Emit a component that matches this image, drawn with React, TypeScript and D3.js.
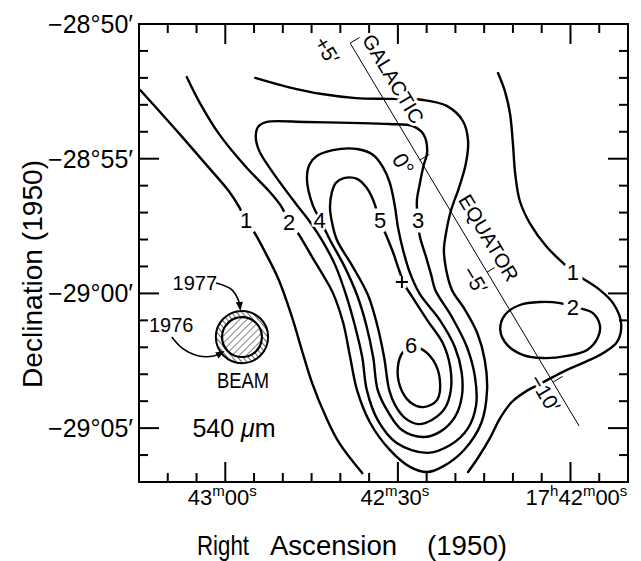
import React from 'react';
import * as d3 from 'd3';

type Pt = [number, number];

// x: RA (1950) in seconds of time after 17h42m00s, increasing to the east (left)
// y: Dec (1950) in arcmin from -29°00', north positive
const raMajorTicks = [60, 30, 0];
const raTickLabels = [
  ['43', 'm', '00', 's'],
  ['42', 'm', '30', 's'],
  ['17', 'h', '42', 'm', '00', 's'],
];
const decMajorTicks = [10, 5, 0, -5];
const decTickLabels = ['−28°50′', '−28°55′', '−29°00′', '−29°05′'];

// 540 µm contours (levels 1..6)
const contour1West: Pt[] = [
  [74.8, 7.55], [71.5, 6.77], [67.5, 5.81], [63.4, 4.8], [59.4, 3.8], [57.6, 3.21],
  [56.4, 2.69], [55.0, 2.28], [52.9, 1.46], [50.7, 0.5], [48.4, -0.88], [46.7, -2.1],
  [44.9, -3.33], [42.5, -4.59], [40.2, -5.55], [36.2, -6.67],
];
const contour1East: Pt[] = [
  [12.6, 8.18], [11.4, 7.51], [10.5, 6.66], [10.0, 5.55], [9.6, 4.43], [8.8, 3.43],
  [7.0, 2.58], [4.1, 1.72], [0.9, 1.05], [-0.4, 0.79], [-2.0, 0.57], [-5.1, 0.13],
  [-7.4, -0.36], [-8.8, -1.1], [-8.1, -1.8], [-5.7, -2.21], [-2.2, -2.58], [0.6, -2.84],
  [3.0, -3.1], [5.3, -3.36], [7.4, -3.59], [10.2, -4.03], [12.2, -4.62], [14.0, -5.37],
  [16.1, -6.11], [17.8, -6.63],
];
const contour2Main: Pt[] = [
  [66.7, 8.03], [64.6, 7.14], [61.1, 5.92], [56.4, 4.69], [52.4, 3.8], [50.3, 3.24],
  [48.9, 2.65], [47.5, 2.28], [44.9, 1.35], [42.7, 0.57], [41.3, 0.02], [39.5, -1.1],
  [38.3, -2.36], [37.1, -3.59], [34.8, -4.81], [31.4, -5.81], [27.9, -6.44], [24.9, -6.63],
  [22.3, -6.44], [18.5, -5.81], [15.5, -4.81], [14.5, -3.59], [14.9, -2.47], [16.2, -1.47],
  [18.3, -0.62], [20.6, 0.13], [21.6, 0.87], [22.0, 1.61], [21.6, 2.28], [20.8, 3.06],
  [19.4, 3.91], [18.2, 4.8], [17.8, 5.66], [18.7, 6.4], [21.5, 6.96], [25.6, 7.18],
  [31.4, 7.22], [37.3, 7.25], [43.2, 7.4], [48.9, 7.65], [54.8, 8.0],
];
const contour2Island: Pt[] = [
  [-0.4, -0.5], [-2.2, -0.58], [-3.9, -0.73], [-5.1, -1.17], [-4.8, -1.62], [-2.9, -2.1],
  [0.6, -2.32], [4.8, -2.4], [8.2, -2.29], [11.0, -1.91], [12.2, -1.36], [11.4, -0.8],
  [8.8, -0.43], [5.3, -0.32], [1.8, -0.36],
];
const contour3: Pt[] = [
  [52.9, 6.36], [46.0, 6.36], [38.3, 6.33], [31.5, 6.29], [27.4, 6.21], [25.6, 5.92],
  [24.9, 5.29], [25.6, 4.69], [26.2, 4.06], [26.7, 3.43], [26.5, 2.69], [26.2, 2.13],
  [25.1, 1.35], [24.2, 0.68], [23.5, 0.13], [20.6, -0.88], [18.0, -1.99], [16.6, -3.1],
  [16.4, -4.14], [17.8, -5.0], [20.9, -5.63], [24.9, -5.92], [30.2, -5.55], [33.5, -4.7],
  [35.4, -3.59], [36.2, -2.36], [37.5, -1.17], [39.0, -0.06], [40.9, 1.05], [43.2, 1.98],
  [45.4, 2.69], [47.7, 3.32], [51.9, 4.54], [54.1, 5.29], [54.7, 5.81], [54.3, 6.18],
];
const contour4: Pt[] = [
  [45.8, 4.21], [45.4, 4.77], [44.1, 5.1], [41.3, 5.32], [37.1, 5.36], [34.3, 5.14],
  [32.6, 4.69], [31.4, 4.1], [30.5, 3.21], [30.0, 2.47], [29.1, 1.61], [27.9, 0.76],
  [26.2, -0.02], [22.7, -0.99], [20.1, -1.99], [18.9, -2.95], [18.9, -3.85], [20.1, -4.59],
  [22.7, -5.14], [25.6, -5.33], [29.3, -5.07], [31.7, -4.4], [33.5, -3.59], [34.3, -2.36],
  [35.5, -1.17], [37.1, -0.06], [39.4, 1.05], [41.8, 1.98], [43.4, 2.69], [44.8, 3.28],
];
const contour5: Pt[] = [
  [41.8, 3.21], [41.5, 3.73], [40.8, 4.1], [39.4, 4.28], [37.1, 4.25], [35.4, 3.91],
  [34.3, 3.47], [33.1, 2.69], [31.9, 2.09], [30.8, 1.5], [29.8, 0.87], [28.8, 0.31],
  [27.5, -0.13], [24.9, -0.99], [22.2, -1.84], [20.9, -2.73], [20.8, -3.59], [21.8, -4.25],
  [24.1, -4.7], [26.5, -4.85], [28.8, -4.62], [30.5, -4.14], [31.5, -3.59], [32.4, -2.36],
  [33.6, -1.17], [35.2, -0.06], [38.0, 1.05], [40.6, 1.98], [41.5, 2.69],
];
const contour6: Pt[] = [
  [27.7, -1.99], [26.2, -2.03], [23.9, -2.47], [22.7, -3.21], [23.2, -3.96], [25.6, -4.22],
  [27.9, -4.03], [29.6, -3.47], [30.0, -2.73], [29.1, -2.17],
];

const contourLabels = [
  { text: '1', ra: 56.4, dec: 2.69 },
  { text: '2', ra: 48.9, dec: 2.65 },
  { text: '4', ra: 43.6, dec: 2.69 },
  { text: '5', ra: 33.1, dec: 2.69 },
  { text: '3', ra: 26.5, dec: 2.69 },
  { text: '6', ra: 27.7, dec: -1.95 },
  { text: '1', ra: -0.4, dec: 0.79 },
  { text: '2', ra: -0.4, dec: -0.54 },
];

const peakMarker: Pt = [29.3, 0.42];

// galactic equator with longitude offsets
const equatorEnds: Pt[] = [[38.3, 9.29], [-1.5, -4.92]];
const equatorTicks: Pt[] = [[38.3, 9.29], [26.2, 4.95], [14.5, 0.79], [3.0, -3.29]];
const equatorLabels = [
  { text: '+5′', ra: 42.3, dec: 9.03, size: 21 },
  { text: '0°', ra: 29.1, dec: 4.8, size: 22 },
  { text: '−5′', ra: 16.6, dec: 0.5, size: 21 },
  { text: '−10′', ra: 4.4, dec: -3.7, size: 21 },
  { text: 'GALACTIC', ra: 30.8, dec: 7.96, size: 20 },
  { text: 'EQUATOR', ra: 14.2, dec: 2.06, size: 20 },
];

// beam inset
const beamCenter: Pt = [57.1, -1.62];
const beamRadius1977 = 0.97; // arcmin
const beamRadius1976 = 0.74;
const arrow1977: Pt[] = [[61.6, 0.39], [59.0, 0.16], [57.8, -0.21], [57.4, -0.58]];
const arrow1976: Pt[] = [[69.3, -1.62], [67.5, -2.03], [64.6, -2.32], [62.0, -2.32], [60.4, -2.17]];

const FONT = "'Liberation Sans', Arial, Helvetica, sans-serif";

export default function App() {
  const W = 641;
  const H = 561;
  const x = d3.scaleLinear().domain([75, -10]).range([139, 628]);
  const y = d3.scaleLinear().domain([10, -7]).range([24, 482]);
  const pxPerArcmin = y(0) - y(1);
  const [x0, x1] = x.range();
  const [y0, y1] = y.range();

  const openLine = d3.line<Pt>().x(d => x(d[0])).y(d => y(d[1])).curve(d3.curveCatmullRom.alpha(0.5));
  const closedLine = d3.line<Pt>().x(d => x(d[0])).y(d => y(d[1])).curve(d3.curveCatmullRomClosed.alpha(0.5));

  const contours = [
    { pts: contour1West, closed: false },
    { pts: contour1East, closed: false },
    { pts: contour2Main, closed: false },
    { pts: contour2Island, closed: true },
    { pts: contour3, closed: true },
    { pts: contour4, closed: true },
    { pts: contour5, closed: true },
    { pts: contour6, closed: true },
  ];

  const raMinor = d3.range(70, -10, -5);
  const decMinor = d3.range(9, -7, -1);
  const isRaMajor = (v: number) => raMajorTicks.includes(v);
  const isDecMajor = (v: number) => decMajorTicks.includes(v);

  // equator geometry in pixels
  const ea = [x(equatorEnds[0][0]), y(equatorEnds[0][1])];
  const eb = [x(equatorEnds[1][0]), y(equatorEnds[1][1])];
  const len = Math.hypot(eb[0] - ea[0], eb[1] - ea[1]);
  const u = [(eb[0] - ea[0]) / len, (eb[1] - ea[1]) / len];
  const n = [u[1], -u[0]];
  const angle = (Math.atan2(u[1], u[0]) * 180) / Math.PI;

  const bx = x(beamCenter[0]);
  const by = y(beamCenter[1]);

  const halo = { stroke: '#fff', paintOrder: 'stroke' as const, strokeLinejoin: 'round' as const };

  return (
    <div style={{ position: 'absolute', left: 0, top: 0, background: '#fff' }}>
      <svg width={W} height={H} style={{ display: 'block', fontFamily: FONT }}>
        <defs>
          <pattern id="hatchInner" patternUnits="userSpaceOnUse" width={5} height={5} patternTransform="rotate(45)">
            <line x1={0} y1={0} x2={0} y2={5} stroke="#000" strokeWidth={1} />
          </pattern>
          <pattern id="hatchRing" patternUnits="userSpaceOnUse" width={4} height={4} patternTransform="rotate(-40)">
            <line x1={0} y1={0} x2={0} y2={4} stroke="#000" strokeWidth={1.2} />
          </pattern>
          <marker id="arrowHead" viewBox="0 0 10 10" refX={8} refY={5} markerWidth={9} markerHeight={9}
            markerUnits="userSpaceOnUse" orient="auto">
            <path d="M0,1 L10,5 L0,9 Z" fill="#000" />
          </marker>
        </defs>
        <rect width={W} height={H} fill="#fff" />

        {/* contours */}
        <g fill="none" stroke="#000" strokeWidth={2.4} strokeLinejoin="round" strokeLinecap="round">
          {contours.map((c, i) => (
            <path key={i} d={(c.closed ? closedLine(c.pts) : openLine(c.pts)) || ''} />
          ))}
        </g>

        {/* galactic equator */}
        <g stroke="#000" strokeWidth={1}>
          <line x1={ea[0]} y1={ea[1]} x2={eb[0]} y2={eb[1]} />
          {equatorTicks.map((p, i) => {
            const px = x(p[0]);
            const py = y(p[1]);
            return <line key={i} x1={px} y1={py} x2={px + n[0] * 11} y2={py + n[1] * 11} />;
          })}
        </g>
        {equatorLabels.map((l, i) => (
          <text key={i} x={x(l.ra)} y={y(l.dec)} fontSize={l.size} textAnchor="middle" dominantBaseline="central"
            transform={`rotate(${angle},${x(l.ra)},${y(l.dec)})`} {...halo} strokeWidth={6} fill="#000">
            {l.text}
          </text>
        ))}

        {/* contour labels */}
        {contourLabels.map((l, i) => (
          <text key={i} x={x(l.ra)} y={y(l.dec)} fontSize={22} textAnchor="middle" dominantBaseline="central"
            {...halo} strokeWidth={l.text === '4' ? 5 : 9} fill="#000">
            {l.text}
          </text>
        ))}

        {/* peak marker */}
        <g transform={`translate(${x(peakMarker[0])},${y(peakMarker[1])})`}>
          <path d="M-6,0H6M0,-6V6" stroke="#fff" strokeWidth={9} />
          <path d="M-6,0H6M0,-6V6" stroke="#000" strokeWidth={2} />
        </g>

        {/* beam inset */}
        <circle cx={bx} cy={by} r={beamRadius1977 * pxPerArcmin} fill="url(#hatchRing)" stroke="#000" strokeWidth={2} />
        <circle cx={bx} cy={by} r={beamRadius1976 * pxPerArcmin} fill="#fff" stroke="none" />
        <circle cx={bx} cy={by} r={beamRadius1976 * pxPerArcmin} fill="url(#hatchInner)" stroke="#000" strokeWidth={2.2} />
        <g fill="none" stroke="#000" strokeWidth={1.6}>
          <path d={openLine(arrow1977) || ''} markerEnd="url(#arrowHead)" />
          <path d={openLine(arrow1976) || ''} markerEnd="url(#arrowHead)" />
        </g>
        <text x={x(65.3)} y={y(0.39) + 7} fontSize={20} textAnchor="middle">1977</text>
        <text x={x(69.4)} y={y(-1.17) + 7} fontSize={20} textAnchor="middle">1976</text>
        <text x={bx + 1} y={by + 51} fontSize={22} textAnchor="middle" textLength={52} lengthAdjust="spacingAndGlyphs">BEAM</text>
        <text x={bx - 8} y={by + 100} fontSize={25} textAnchor="middle">
          540 <tspan fontStyle="italic">μ</tspan>m
        </text>

        {/* frame */}
        <rect x={x0} y={y0} width={x1 - x0} height={y1 - y0} fill="none" stroke="#000" strokeWidth={2} />

        {/* ticks */}
        <g stroke="#000" strokeWidth={2}>
          {raMinor.map(v => {
            const l = isRaMajor(v) ? 20 : 9;
            return (
              <g key={`rx${v}`}>
                <line x1={x(v)} x2={x(v)} y1={y0} y2={y0 + l} />
                <line x1={x(v)} x2={x(v)} y1={y1} y2={y1 - l} />
              </g>
            );
          })}
          {decMinor.map(v => {
            const l = isDecMajor(v) ? 20 : 9;
            return (
              <g key={`dy${v}`}>
                <line x1={x0} x2={x0 + l} y1={y(v)} y2={y(v)} />
                <line x1={x1} x2={x1 - l} y1={y(v)} y2={y(v)} />
              </g>
            );
          })}
        </g>

        {/* tick labels */}
        {decMajorTicks.map((v, i) => (
          <text key={`dl${v}`} x={133} y={y(v) + 9} fontSize={25} textAnchor="end">
            {decTickLabels[i]}
          </text>
        ))}
        {raMajorTicks.map((v, i) => (
          <text key={`rl${v}`} x={x(v) + (i === 2 ? 6 : -3)} y={505} fontSize={22} textAnchor="middle">
            {raTickLabels[i].map((p, j) =>
              j % 2 === 1 ? (
                <tspan key={j} fontSize={15} dy={-9}>{p}</tspan>
              ) : (
                <tspan key={j} dy={j === 0 ? 0 : 9}>{p}</tspan>
              )
            )}
          </text>
        ))}

        {/* axis titles */}
        <g fontSize={28}>
          <text x={197} y={555} textLength={52} lengthAdjust="spacingAndGlyphs">Right</text>
          <text x={270} y={555} textLength={127} lengthAdjust="spacingAndGlyphs">Ascension</text>
          <text x={427} y={555} textLength={80} lengthAdjust="spacingAndGlyphs">(1950)</text>
        </g>
        <text transform="translate(42,274) rotate(-90)" fontSize={28} textAnchor="middle" textLength={228}
          lengthAdjust="spacingAndGlyphs">
          Declination (1950)
        </text>
      </svg>
    </div>
  );
}
